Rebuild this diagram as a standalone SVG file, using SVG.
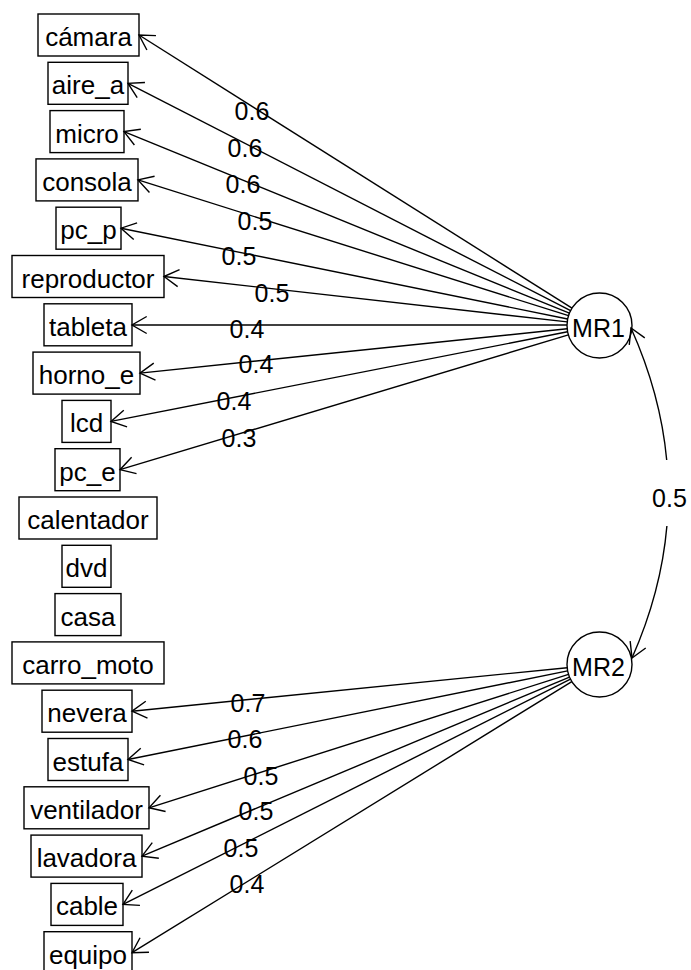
<svg xmlns="http://www.w3.org/2000/svg" width="691" height="970" viewBox="0 0 691 970">
<style>
.bx{fill:none;stroke:#000;stroke-width:1.4}
.t{font-family:"Liberation Sans",Arial,sans-serif;font-size:26px;fill:#000;text-anchor:middle}
.n{font-family:"Liberation Sans",Arial,sans-serif;font-size:25px;fill:#000;text-anchor:middle}
.e{fill:none;stroke:#000;stroke-width:1.4;marker-end:url(#ah)}
</style>
<defs>
<marker id="ah" markerUnits="userSpaceOnUse" orient="auto" refX="0" refY="0" markerWidth="20" markerHeight="20" overflow="visible">
<path d="M-14.7,-8.5 L0,0 L-14.7,8.5" fill="none" stroke="#000" stroke-width="1.4"/>
</marker>
</defs>
<rect width="691" height="970" fill="#fff"/>
<g id="connectors">
<path class="e" d="M572,308.2 L139,35"/>
<path class="e" d="M570.6,310.7 L128,83.3"/>
<path class="e" d="M569.4,313.2 L124,131.6"/>
<path class="e" d="M568.5,315.7 L138,179.9"/>
<path class="e" d="M567.65,319 L121,228.2"/>
<path class="e" d="M567.2,321.9 L164,276.5"/>
<path class="e" d="M567,325 L132,325"/>
<path class="e" d="M567.2,328.8 L140,373.1"/>
<path class="e" d="M567.6,331.8 L111,421.4"/>
<path class="e" d="M568.4,334.9 L120,469.7"/>
<path class="e" d="M567.2,667.7 L132,711.2"/>
<path class="e" d="M567.6,670.9 L128,759.5"/>
<path class="e" d="M568.5,674.4 L149,807.8"/>
<path class="e" d="M569.5,677.1 L142,856.1"/>
<path class="e" d="M570.5,679.1 L123,904.4"/>
<path class="e" d="M571.8,681.6 L132,952.7"/>
<path class="e" d="M666.7,460 Q660.6,394 631,328"/>
<path class="e" d="M666.9,526 Q661.2,592 632,658"/>
<text class="n" x="252" y="120">0.6</text>
<text class="n" x="245" y="157">0.6</text>
<text class="n" x="243" y="193">0.6</text>
<text class="n" x="255" y="230">0.5</text>
<text class="n" x="239" y="265">0.5</text>
<text class="n" x="272" y="302">0.5</text>
<text class="n" x="247" y="338">0.4</text>
<text class="n" x="256" y="373">0.4</text>
<text class="n" x="234" y="410">0.4</text>
<text class="n" x="239" y="447">0.3</text>
<text class="n" x="248" y="712">0.7</text>
<text class="n" x="245" y="748">0.6</text>
<text class="n" x="261" y="785">0.5</text>
<text class="n" x="256" y="820">0.5</text>
<text class="n" x="241" y="857">0.5</text>
<text class="n" x="247" y="893">0.4</text>
<text class="n" x="669.5" y="507">0.5</text>
</g>
<g id="MR1"><circle class="bx" cx="599.5" cy="325.5" r="32.5"/><text class="n" x="598.5" y="337">MR1</text></g>
<g id="MR2"><circle class="bx" cx="599.5" cy="664.5" r="32.5"/><text class="n" x="598.5" y="676">MR2</text></g>
<g id="camara"><rect class="bx" x="38" y="14" width="101" height="42"/><text class="t" x="88.5" y="46">cámara</text></g>
<g id="aire_a"><rect class="bx" x="48" y="62.3" width="80" height="42"/><text class="t" x="88" y="94.3">aire_a</text></g>
<g id="micro"><rect class="bx" x="50" y="110.6" width="74" height="42"/><text class="t" x="87" y="142.6">micro</text></g>
<g id="consola"><rect class="bx" x="36" y="158.9" width="102" height="42"/><text class="t" x="87" y="190.9">consola</text></g>
<g id="pc_p"><rect class="bx" x="56" y="207.2" width="65" height="42"/><text class="t" x="88.5" y="239.2">pc_p</text></g>
<g id="reproductor"><rect class="bx" x="12" y="255.5" width="152" height="42"/><text class="t" x="88" y="287.5">reproductor</text></g>
<g id="tableta"><rect class="bx" x="44" y="303.8" width="88" height="42"/><text class="t" x="88" y="335.8">tableta</text></g>
<g id="horno_e"><rect class="bx" x="33" y="352.1" width="107" height="42"/><text class="t" x="86.5" y="384.1">horno_e</text></g>
<g id="lcd"><rect class="bx" x="62" y="400.4" width="49" height="42"/><text class="t" x="86.5" y="432.4">lcd</text></g>
<g id="pc_e"><rect class="bx" x="55" y="448.7" width="65" height="42"/><text class="t" x="87.5" y="480.7">pc_e</text></g>
<g id="calentador"><rect class="bx" x="19" y="497" width="138" height="42"/><text class="t" x="88" y="529">calentador</text></g>
<g id="dvd"><rect class="bx" x="62" y="545.3" width="49" height="42"/><text class="t" x="86.5" y="577.3">dvd</text></g>
<g id="casa"><rect class="bx" x="55" y="593.6" width="66" height="42"/><text class="t" x="88" y="625.6">casa</text></g>
<g id="carro_moto"><rect class="bx" x="12" y="641.9" width="152" height="42"/><text class="t" x="88" y="673.9">carro_moto</text></g>
<g id="nevera"><rect class="bx" x="42" y="690.2" width="90" height="42"/><text class="t" x="87" y="722.2">nevera</text></g>
<g id="estufa"><rect class="bx" x="48" y="738.5" width="80" height="42"/><text class="t" x="88" y="770.5">estufa</text></g>
<g id="ventilador"><rect class="bx" x="24" y="786.8" width="125" height="42"/><text class="t" x="86.5" y="818.8">ventilador</text></g>
<g id="lavadora"><rect class="bx" x="31" y="835.1" width="111" height="42"/><text class="t" x="86.5" y="867.1">lavadora</text></g>
<g id="cable"><rect class="bx" x="51" y="883.4" width="72" height="42"/><text class="t" x="87" y="915.4">cable</text></g>
<g id="equipo"><rect class="bx" x="44" y="931.7" width="88" height="42"/><text class="t" x="88" y="963.7">equipo</text></g>
</svg>
